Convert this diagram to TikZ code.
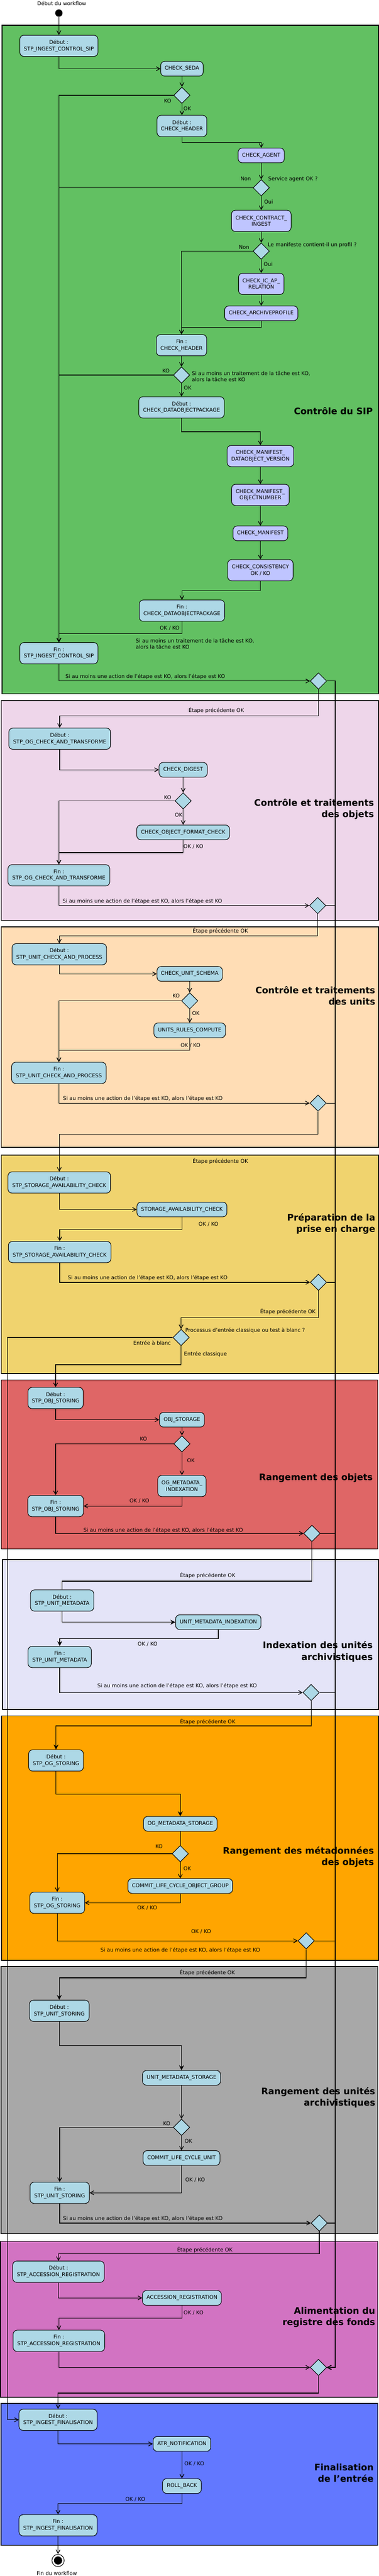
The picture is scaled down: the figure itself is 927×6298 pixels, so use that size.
\documentclass[tikz,border=0pt]{standalone}
\usepackage{fontspec}
\setmainfont{DejaVu Sans}
\usetikzlibrary{shapes.geometric,arrows.meta}
\definecolor{cGreen}{RGB}{98,192,98}
\definecolor{cPink}{RGB}{238,214,234}
\definecolor{cPeach}{RGB}{255,221,181}
\definecolor{cYellow}{RGB}{240,211,110}
\definecolor{cRed}{RGB}{223,102,102}
\definecolor{cLav}{RGB}{228,228,248}
\definecolor{cOrange}{RGB}{255,165,0}
\definecolor{cGray}{RGB}{168,168,168}
\definecolor{cMag}{RGB}{210,115,194}
\definecolor{cBlue}{RGB}{98,120,255}
\definecolor{cNode}{RGB}{173,216,230}
\definecolor{cPurple}{RGB}{191,197,255}
\newcommand\smallfnt{\fontsize{12.7}{16}\selectfont}
\newcommand\titlefnt{\fontsize{22}{28}\selectfont\bfseries}
\begin{document}
\begin{tikzpicture}[x=1pt,y=-1pt,
  act/.style={draw, line width=1.3pt, rounded corners=10pt, fill=cNode, align=center, inner sep=1pt, font=\smallfnt, minimum height=36pt},
  tall/.style={minimum height=52pt},
  pur/.style={fill=cPurple},
  dec/.style={draw, diamond, fill=cNode, line width=1.3pt, minimum width=40pt, minimum height=40pt, inner sep=0pt},
  sect/.style={draw, line width=2pt},
  conn/.style={line width=1.5pt, -{Straight Barb[length=9pt,width=10pt]}},
  connf/.style={line width=1.5pt, -{Stealth[length=12pt,width=12pt,inset=4pt]}},
  plain/.style={line width=1.5pt},
  lbl/.style={font=\smallfnt, inner sep=0pt},
  ttl/.style={font=\titlefnt, align=right, anchor=east, inner sep=0pt}]
\useasboundingbox (0,0) rectangle (927,6298);
% sections
\draw[sect, fill=cGreen] (5,62) rectangle (926,1696);
\draw[sect, fill=cPink] (3,1713) rectangle (926,2250);
\draw[sect, fill=cPeach] (3,2266) rectangle (926,2805);
\draw[sect, fill=cYellow] (3,2824) rectangle (926,3358);
\draw[sect, fill=cRed] (3,3374) rectangle (924,3787);
\draw[sect, fill=cLav] (6,3813) rectangle (926,4179);
\draw[sect, fill=cOrange] (4,4195) rectangle (926,4793);
\draw[sect, fill=cGray] (2.4,4808) rectangle (924,5461);
\draw[sect, fill=cMag] (1.5,5480) rectangle (924,5861);
\draw[sect, fill=cBlue] (2.4,5876) rectangle (924,6223);
% titles
\node[ttl] (t1) at (912,1005) {Contrôle du SIP};
\node[ttl] (t2) at (915,1978) {Contrôle et traitements\\des objets};
\node[ttl] (t3) at (918,2434) {Contrôle et traitements\\des units};
\node[ttl] (t4) at (918,2992) {Préparation de la\\prise en charge};
\node[ttl] (t5) at (912,3613) {Rangement des objets};
\node[ttl] (t6) at (912,4038) {Indexation des unités\\archivistiques};
\node[ttl] (t7) at (915,4540) {Rangement des métadonnées\\des objets};
\node[ttl] (t8) at (918,5128) {Rangement des unités\\archivistiques};
\node[ttl] (t9) at (918,5665) {Alimentation du\\registre des fonds};
\node[ttl] (t10) at (914,6046) {Finalisation\\de l'entrée};
% ---------- nodes: SIP
\node[lbl] (lstart) at (151,8) {Début du workflow};
\node[circle, fill=black, minimum size=18pt, inner sep=0pt] (start) at (144,32) {};
\node[act, tall, minimum width=191pt] (debSIP) at (144,112) {Début :\\STP\_INGEST\_CONTROL\_SIP};
\node[act, minimum width=104pt] (seda) at (445,168) {CHECK\_SEDA};
\node[dec] (dA) at (445,233) {};
\node[act, tall, minimum width=122pt] (debHdr) at (445,308) {Début :\\CHECK\_HEADER};
\node[act, pur, minimum width=113pt] (agent) at (639,380) {CHECK\_AGENT};
\node[dec] (dB) at (639,459) {};
\node[act, pur, tall, minimum width=146pt] (contract) at (639,540) {CHECK\_CONTRACT\_\\INGEST};
\node[dec] (dC) at (639,614) {};
\node[act, pur, tall, minimum width=111pt] (icap) at (639,694) {CHECK\_IC\_AP\_\\RELATION};
\node[act, pur, minimum width=179pt] (archprof) at (639,766) {CHECK\_ARCHIVEPROFILE};
\node[act, tall, minimum width=123pt] (finHdr) at (444,844) {Fin :\\CHECK\_HEADER};
\node[dec] (dD) at (444,917) {};
\node[act, tall, minimum width=209pt] (debDOP) at (444,996) {Début :\\CHECK\_DATAOBJECTPACKAGE};
\node[act, pur, tall, minimum width=163pt] (mdov) at (637,1115) {CHECK\_MANIFEST\_\\DATAOBJECT\_VERSION};
\node[act, pur, tall, minimum width=141pt] (mon) at (637,1210) {CHECK\_MANIFEST\_\\OBJECTNUMBER};
\node[act, pur, minimum width=134pt] (man) at (637,1304) {CHECK\_MANIFEST};
\node[act, pur, tall, minimum width=160pt] (cons) at (637,1394) {CHECK\_CONSISTENCY\\OK / KO};
\node[act, tall, minimum width=209pt] (finDOP) at (445,1493) {Fin :\\CHECK\_DATAOBJECTPACKAGE};
\node[act, tall, minimum width=191pt] (finSIP) at (144,1597) {Fin :\\STP\_INGEST\_CONTROL\_SIP};
\node[dec] (sd1) at (779,1665) {};
% ---------- objets
\node[act, tall, minimum width=249pt] (debOG) at (146,1806) {Début :\\STP\_OG\_CHECK\_AND\_TRANSFORME};
\node[act, minimum width=118pt] (digest) at (448,1882) {CHECK\_DIGEST};
\node[dec] (dE) at (448,1958) {};
\node[act, minimum width=227pt] (fmt) at (448,2035) {CHECK\_OBJECT\_FORMAT\_CHECK};
\node[act, tall, minimum width=249pt] (finOG) at (144,2140) {Fin :\\STP\_OG\_CHECK\_AND\_TRANSFORME};
\node[dec] (sd2) at (777,2214) {};
% ---------- units
\node[act, tall, minimum width=231pt] (debUnit) at (145,2333) {Début :\\STP\_UNIT\_CHECK\_AND\_PROCESS};
\node[act, minimum width=160pt] (schema) at (464,2381) {CHECK\_UNIT\_SCHEMA};
\node[dec] (dF) at (464,2447) {};
\node[act, minimum width=175pt] (rules) at (464,2519) {UNITS\_RULES\_COMPUTE};
\node[act, tall, minimum width=231pt] (finUnit) at (144,2623) {Fin :\\STP\_UNIT\_CHECK\_AND\_PROCESS};
\node[dec] (sd3) at (778,2697) {};
% ---------- preparation
\node[act, tall, minimum width=251pt] (debStor) at (145,2891) {Début :\\STP\_STORAGE\_AVAILABILITY\_CHECK};
\node[act, minimum width=220pt] (stor) at (445,2957) {STORAGE\_AVAILABILITY\_CHECK};
\node[act, tall, minimum width=251pt] (finStor) at (146,3061) {Fin :\\STP\_STORAGE\_AVAILABILITY\_CHECK};
\node[dec] (sd4) at (779,3135) {};
\node[dec] (proc) at (443,3270) {};
% ---------- rangement objets
\node[act, tall, minimum width=135pt] (debObj) at (136,3418) {Début :\\STP\_OBJ\_STORING};
\node[act, minimum width=110pt] (objst) at (445,3471) {OBJ\_STORAGE};
\node[dec] (dG) at (445,3530) {};
\node[act, tall, minimum width=118pt] (ogidx) at (445,3633) {OG\_METADATA\_\\INDEXATION};
\node[act, tall, minimum width=136pt] (finObj) at (136,3682) {Fin :\\STP\_OBJ\_STORING};
\node[dec] (sd5) at (763,3749) {};
% ---------- indexation
\node[act, tall, minimum width=155pt] (debUM) at (152,3913) {Début :\\STP\_UNIT\_METADATA};
\node[act, minimum width=209pt] (umidx) at (534,3966) {UNIT\_METADATA\_INDEXATION};
\node[act, tall, minimum width=155pt] (finUM) at (146,4051) {Fin :\\STP\_UNIT\_METADATA};
\node[dec] (sd6) at (761,4138) {};
% ---------- OG storing
\node[act, tall, minimum width=134pt] (debOGS) at (137,4304) {Début :\\STP\_OG\_STORING};
\node[act, minimum width=180pt] (ogms) at (441,4459) {OG\_METADATA\_STORAGE};
\node[dec] (dH) at (441,4532) {};
\node[act, minimum width=256pt] (commitOG) at (441,4611) {COMMIT\_LIFE\_CYCLE\_OBJECT\_GROUP};
\node[act, tall, minimum width=134pt] (finOGS) at (140,4652) {Fin :\\STP\_OG\_STORING};
\node[dec] (sd7) at (749,4745) {};
% ---------- unit storing
\node[act, tall, minimum width=146pt] (debUS) at (145,4916) {Début :\\STP\_UNIT\_STORING};
\node[act, minimum width=191pt] (umst) at (444,5080) {UNIT\_METADATA\_STORAGE};
\node[dec] (dI) at (444,5201) {};
\node[act, minimum width=188pt] (commitU) at (444,5276) {COMMIT\_LIFE\_CYCLE\_UNIT};
\node[act, tall, minimum width=145pt] (finUS) at (146,5361) {Fin :\\STP\_UNIT\_STORING};
\node[dec] (sd8) at (781,5435) {};
% ---------- accession
\node[act, tall, minimum width=224pt] (debAR) at (143,5554) {Début :\\STP\_ACCESSION\_REGISTRATION};
\node[act, minimum width=193pt] (accreg) at (445,5618) {ACCESSION\_REGISTRATION};
\node[act, tall, minimum width=224pt] (finAR) at (144,5723) {Fin :\\STP\_ACCESSION\_REGISTRATION};
\node[dec] (sdF) at (779,5788) {};
% ---------- finalisation
\node[act, tall, minimum width=191pt] (debIF) at (142,5916) {Début :\\STP\_INGEST\_FINALISATION};
\node[act, minimum width=141pt] (atr) at (445,5975) {ATR\_NOTIFICATION};
\node[act, minimum width=95pt] (rb) at (445,6078) {ROLL\_BACK};
\node[act, tall, minimum width=191pt] (finIF) at (142,6174) {Fin :\\STP\_INGEST\_FINALISATION};
\node[circle, draw, line width=1.3pt, fill=white, minimum size=30pt, inner sep=0pt] (stopc) at (142,6260) {};
\fill (stopc.center) circle (10pt);
\node[lbl] (lend) at (139,6291) {Fin du workflow};
% coordinates
\coordinate (busEnd) at (820,5788);
\coordinate (blanc) at (18,5916);
% ---------- KO bus
\foreach \d in {sd1,sd2,sd3,sd4,sd5,sd6,sd7,sd8}{
  \draw[conn] (\d.east) -| (busEnd) -- (sdF.east);
}
\draw[line width=3.2pt, shorten >=9pt] (820,2697) -- (busEnd) -- (sdF.east);
% ---------- connectors SIP
\draw[conn] (start) -- (debSIP.north);
\draw[conn] (debSIP.south) |- (seda.west);
\draw[conn] (seda.south) -- (dA.north);
\draw[conn] (dA.south) -- (debHdr.north);
\draw[conn] (dA.west) -| (finSIP.north);
\draw[conn] (debHdr.south) -- ++(0,14) -| (agent.north);
\draw[conn] (agent.south) -- (dB.north);
\draw[conn] (dB.west) -| (finSIP.north);
\draw[conn] (dB.south) -- (contract.north);
\draw[conn] (contract.south) -- (dC.north);
\draw[conn] (dC.west) -| (finHdr.north);
\draw[conn] (dC.south) -- (icap.north);
\draw[conn] (icap.south) -- (archprof.north);
\draw[conn] (archprof.south) -- ++(0,16) -| (finHdr.north);
\draw[conn] (finHdr.south) -- (dD.north);
\draw[conn] (dD.west) -| (finSIP.north);
\draw[conn] (dD.south) -- (debDOP.north);
\draw[conn] (debDOP.south) -- ++(0,33) -| (mdov.north);
\draw[conn] (mdov.south) -- (mon.north);
\draw[conn] (mon.south) -- (man.north);
\draw[conn] (man.south) -- (cons.north);
\draw[conn] (cons.south) -- ++(0,23) -| (finDOP.north);
\draw[conn] (finDOP.south) -- ++(0,29) -| (finSIP.north);
\draw[conn] (finSIP.south) |- (sd1.west);
\node[lbl] at (410,247) {KO};
\node[lbl] at (458,266) {OK};
\node[lbl] at (601,437) {Non};
\node[lbl, anchor=west] at (656,438) {Service agent OK ?};
\node[lbl] at (657,493) {Oui};
\node[lbl, anchor=west] at (655,599) {Le manifeste contient-il un profil ?};
\node[lbl] at (597,604) {Non};
\node[lbl] at (656,646) {Oui};
\node[lbl] at (406,907) {KO};
\node[lbl, anchor=west, align=left] at (469,920) {Si au moins un traitement de la tâche est KO,\\alors la tâche est KO};
\node[lbl] at (459,948) {OK};
\node[lbl] at (415,1536) {OK / KO};
\node[lbl, anchor=west, align=left] at (332,1574) {Si au moins un traitement de la tâche est KO,\\alors la tâche est KO};
\node[lbl, anchor=west] at (160,1654) {Si au moins une action de l'étape est KO, alors l'étape est KO};
% ---------- objets
\draw[conn] (sd1.south) -- ++(0,65) -| (debOG.north);
\node[lbl] at (529,1737) {Étape précédente OK};
\draw[conn] (debOG.south) |- (digest.west);
\draw[conn] (digest.south) -- (dE.north);
\draw[conn] (dE.west) -| (finOG.north);
\draw[conn] (dE.south) -- (fmt.north);
\draw[conn] (fmt.south) -- ++(0,31) -| (finOG.north);
\draw[conn] (finOG.south) |- (sd2.west);
\node[lbl] at (410,1949) {KO};
\node[lbl] at (437,1993) {OK};
\node[lbl] at (473,2070) {OK / KO};
\node[lbl, anchor=west] at (153,2204) {Si au moins une action de l'étape est KO, alors l'étape est KO};
% ---------- units
\draw[conn] (sd2.south) -- ++(0,53) -| (debUnit.north);
\node[lbl] at (539,2276) {Étape précédente OK};
\draw[conn] (debUnit.south) |- (schema.west);
\draw[conn] (schema.south) -- (dF.north);
\draw[conn] (dF.west) -| (finUnit.north);
\draw[conn] (dF.south) -- (rules.north);
\draw[conn] (rules.south) -- ++(0,30) -| (finUnit.north);
\draw[conn] (finUnit.south) |- (sd3.west);
\node[lbl] at (431,2435) {KO};
\node[lbl] at (479,2477) {OK};
\node[lbl] at (466,2556) {OK / KO};
\node[lbl, anchor=west] at (154,2686) {Si au moins une action de l'étape est KO, alors l'étape est KO};
% ---------- preparation
\draw[conn] (sd3.south) -- ++(0,55) -| (debStor.north);
\node[lbl] at (539,2839) {Étape précédente OK};
\draw[conn] (debStor.south) |- (stor.west);
\draw[conn] (stor.south) -- ++(0,30) -| (finStor.north);
\draw[conn] (finStor.south) |- (sd4.west);
\node[lbl] at (510,2993) {OK / KO};
\node[lbl, anchor=west] at (166,3125) {Si au moins une action de l'étape est KO, alors l'étape est KO};
\draw[conn] (sd4.south) -- ++(0,66) -| (proc.north);
\node[lbl, anchor=east] at (772,3207) {Étape précédente OK};
\node[lbl, anchor=west] at (453,3253) {Processus d'entrée classique ou test à blanc ?};
\draw[conn] (proc.west) -| (blanc) -- (debIF.west);
\node[lbl, anchor=east] at (418,3283) {Entrée à blanc};
\draw[conn] (proc.south) -- ++(0,46) -| (debObj.north);
\node[lbl, anchor=west] at (450,3311) {Entrée classique};
% ---------- rangement objets
\draw[conn] (debObj.south) |- (objst.west);
\draw[conn] (objst.south) -- (dG.north);
\draw[conn] (dG.west) -| (finObj.north);
\draw[conn] (dG.south) -- (ogidx.north);
\draw[conn] (ogidx.south) |- (finObj.east);
\draw[conn] (finObj.south) |- (sd5.west);
\node[lbl] at (351,3518) {KO};
\node[lbl] at (467,3571) {OK};
\node[lbl] at (341,3669) {OK / KO};
\node[lbl, anchor=west] at (204,3741) {Si au moins une action de l'étape est KO, alors l'étape est KO};
% ---------- indexation
\draw[plain] (sd5.south) -- ++(0,96) -| (debUM.north);
\node[lbl] at (508,3852) {Étape précédente OK};
\draw[connf] (debUM.south) |- (umidx.west);
\draw[connf] (umidx.south) -- ++(0,21) -| (finUM.north);
\node[lbl] at (361,4019) {OK / KO};
\draw[conn] (finUM.south) |- (sd6.west);
\node[lbl, anchor=west] at (238,4122) {Si au moins une action de l'étape est KO, alors l'étape est KO};
% ---------- OG storing
\draw[connf] (sd6.south) -- ++(0,61) -| (debOGS.north);
\node[lbl] at (508,4210) {Étape précédente OK};
\draw[connf] (debOGS.south) -- ++(0,56) -| (ogms.north);
\draw[plain] (ogms.south) -- (dH.north);
\draw[conn] (dH.west) -| (finOGS.north);
\draw[conn] (dH.south) -- (commitOG.north);
\draw[conn] (commitOG.south) |- (finOGS.east);
\draw[conn] (finOGS.south) |- (sd7.west);
\node[lbl] at (389,4514) {KO};
\node[lbl] at (458,4568) {OK};
\node[lbl] at (360,4665) {OK / KO};
\node[lbl] at (492,4723) {OK / KO};
\node[lbl] at (441,4768) {Si au moins une action de l'étape est KO, alors l'étape est KO};
% ---------- unit storing
\draw[connf] (sd7.south) -- ++(0,70) -| (debUS.north);
\node[lbl] at (507,4823) {Étape précédente OK};
\draw[connf] (debUS.south) -- ++(0,59) -| (umst.north);
\draw[conn] (umst.south) -- (dI.north);
\draw[conn] (dI.west) -| (finUS.north);
\draw[conn] (dI.south) -- (commitU.north);
\draw[conn] (commitU.south) |- (finUS.east);
\draw[conn] (finUS.south) |- (sd8.west);
\node[lbl] at (408,5192) {KO};
\node[lbl] at (461,5235) {OK};
\node[lbl, anchor=west] at (453,5330) {OK / KO};
\node[lbl, anchor=west] at (154,5425) {Si au moins une action de l'étape est KO, alors l'étape est KO};
% ---------- accession
\draw[conn] (sd8.south) -- ++(0,54) -| (debAR.north);
\node[lbl] at (501,5500) {Étape précédente OK};
\draw[conn] (debAR.south) |- (accreg.west);
\draw[conn] (accreg.south) -- ++(0,31) -| (finAR.north);
\node[lbl, anchor=west] at (449,5654) {OK / KO};
\draw[conn] (finAR.south) |- (sdF.west);
% ---------- finalisation
\draw[conn] (sdF.south) -- ++(0,42) -| (debIF.north);
\draw[conn] (debIF.south) |- (atr.west);
\draw[conn] (atr.south) -- (rb.north);
\node[lbl, anchor=west] at (451,6024) {OK / KO};
\draw[conn] (rb.south) -- ++(0,24) -| (finIF.north);
\node[lbl] at (331,6110) {OK / KO};
\draw[conn] (finIF.south) -- (stopc.north);
\end{tikzpicture}
\end{document}
